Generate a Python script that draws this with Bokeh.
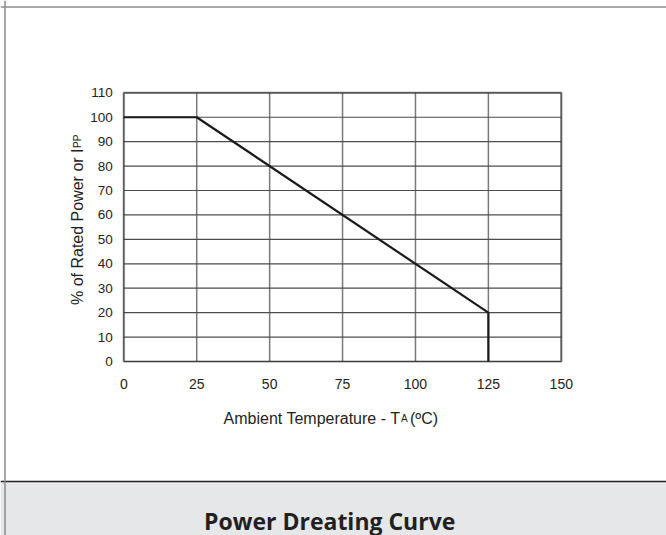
import math
from bokeh.plotting import figure
from bokeh.models import Range1d, FixedTicker, Label, BoxAnnotation, Span, LinearAxis
from bokeh.embed import file_html
from bokeh.resources import INLINE

# ---- data ----
temperature = [0, 25, 125, 125]
power_pct = [100, 100, 20, 0]
x_ticks = [0, 25, 50, 75, 100, 125, 150]
y_ticks = [0, 10, 20, 30, 40, 50, 60, 70, 80, 90, 100, 110]
chart_title = "Power Dreating Curve"
x_title_parts = ["Ambient Temperature - T", "A", "(ºC)"]
y_title_parts = ["% of Rated Power or I", "PP"]

TXT = "#231f20"
FONT = "Liberation Sans"
W, H = 666, 535

# pixel layout of the plot area (canvas px, origin top-left)
PX_L, PX_R = 123.3, 560.8
PY_T, PY_B = 92.3, 361.0
x_lo, x_hi = x_ticks[0], x_ticks[-1]
y_lo, y_hi = y_ticks[0], y_ticks[-1]
sx = (PX_R - PX_L) / (x_hi - x_lo)
sy = (PY_B - PY_T) / (y_hi - y_lo)
x_start = x_lo - PX_L / sx
x_end = x_hi + (W - PX_R) / sx
y_start = y_lo - (H - PY_B) / sy
y_end = y_hi + PY_T / sy


def dx(px):
    return x_start + px / sx


def dy(py):
    return y_end - py / sy


p = figure(width=W, height=H, x_range=Range1d(x_start, x_end), y_range=Range1d(y_start, y_end),
           x_axis_type=None, y_axis_type=None, title=None,
           output_backend="svg", toolbar_location=None, min_border=0)
p.background_fill_color = "white"
p.border_fill_color = "white"
p.outline_line_color = None
p.grid.visible = False

# axes fixed to the plot-area edges
xax = LinearAxis(fixed_location=y_lo, ticker=FixedTicker(ticks=x_ticks))
yax = LinearAxis(fixed_location=x_lo, ticker=FixedTicker(ticks=y_ticks))
for ax in (xax, yax):
    ax.axis_line_color = None
    ax.major_tick_line_color = None
    ax.minor_tick_line_color = None
    ax.major_tick_out = 0
    ax.major_tick_in = 0
    ax.minor_tick_out = 0
    ax.minor_tick_in = 0
    ax.major_label_text_font = FONT
    ax.major_label_text_color = TXT
xax.major_label_text_font_size = "14px"
yax.major_label_text_font_size = "13.5px"
xax.major_label_standoff = 17
yax.major_label_standoff = 11
p.add_layout(xax, "below")
p.add_layout(yax, "left")

# grid lines inside the plot area
n_x, n_y = len(x_ticks), len(y_ticks)
p.segment(x0=x_ticks, y0=[y_lo] * n_x, x1=x_ticks, y1=[y_hi] * n_x,
          line_color="#7a7a7a", line_width=1.5)
p.segment(x0=[x_lo] * n_y, y0=y_ticks, x1=[x_hi] * n_y, y1=y_ticks,
          line_color="#4d4d4d", line_width=1.2)

# derating curve
p.line(temperature, power_pct, line_color="#1a1a1a", line_width=2.2)

# plot-area frame
p.add_layout(BoxAnnotation(left=x_lo, right=x_hi, bottom=y_lo, top=y_hi,
                           fill_alpha=0, line_color="#1a1a1a", line_width=2.6))

# axis titles
p.add_layout(Label(x=dx(400), y=dy(417.5), text=x_title_parts[0],
                   text_align="right", text_baseline="alphabetic", text_font=FONT,
                   text_font_size="16px", text_color=TXT))
p.add_layout(Label(x=dx(400.5), y=dy(417.5), text=x_title_parts[1],
                   text_align="left", text_baseline="alphabetic", text_font=FONT,
                   text_font_size="10px", text_color=TXT))
p.add_layout(Label(x=dx(409.5), y=dy(417.5), text=x_title_parts[2],
                   text_align="left", text_baseline="alphabetic", text_font=FONT,
                   text_font_size="16px", text_color=TXT))

p.add_layout(Label(x=dx(77), y=dy(148), text=y_title_parts[0],
                   angle=math.pi / 2, text_align="right", text_baseline="alphabetic",
                   text_font=FONT, text_font_size="16px", text_color=TXT))
p.add_layout(Label(x=dx(77), y=dy(147.5), text=y_title_parts[1],
                   angle=math.pi / 2, text_align="left", text_baseline="alphabetic",
                   text_font=FONT, text_font_size="10px", text_color=TXT))

# title band and outer border
p.add_layout(BoxAnnotation(top=dy(481), fill_color="#e6e7e8", fill_alpha=1, line_color=None))
p.add_layout(Span(location=dy(481), dimension="width", line_color="#231f20", line_width=1.3))
p.add_layout(Span(location=dy(6.5), dimension="width", line_color="#8c8c8c", line_width=1.5))
p.add_layout(Span(location=dx(4.5), dimension="height", line_color="#8c8c8c", line_width=1.5))
p.add_layout(Label(x=dx(329.2), y=dy(520), text=chart_title, text_align="center",
                   text_baseline="alphabetic", text_font="Open Sans", text_font_style="bold",
                   text_font_size="23px", text_color=TXT))

open("out.html", "w").write(file_html(p, INLINE))
